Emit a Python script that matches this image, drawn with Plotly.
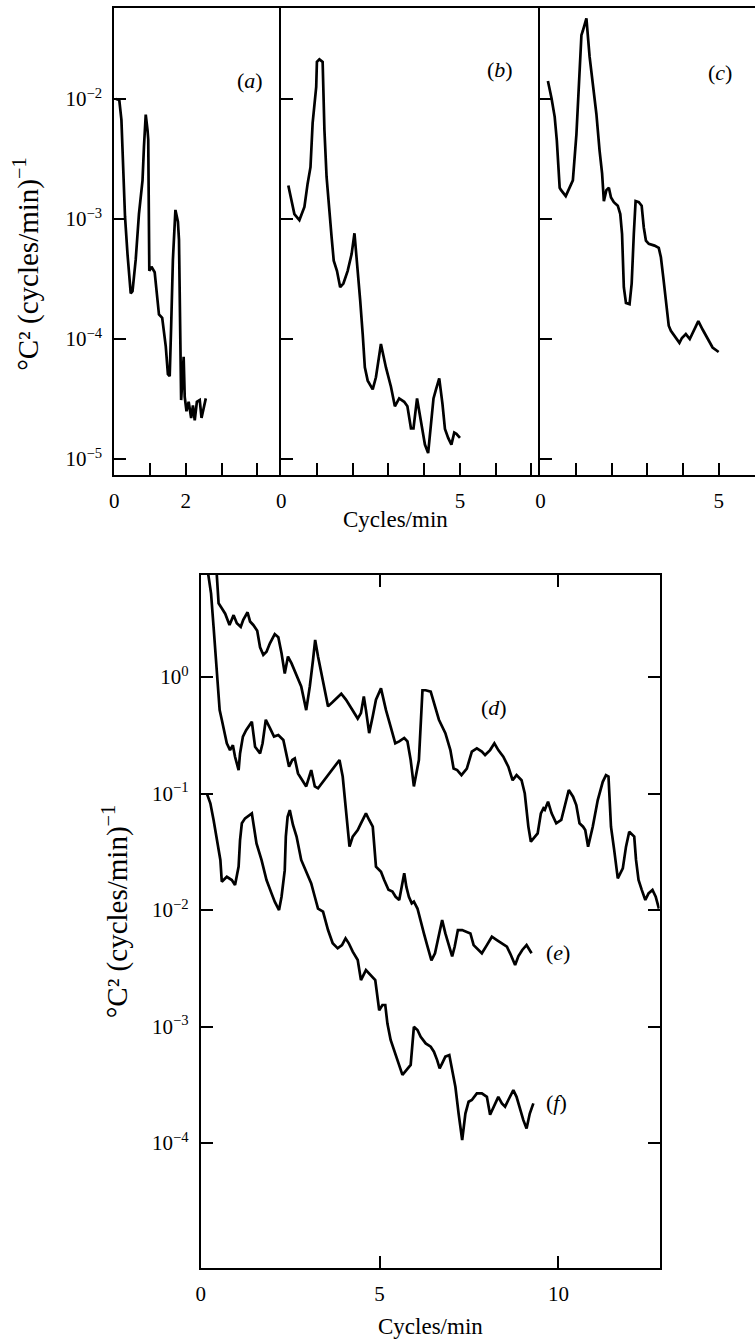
import plotly.graph_objects as go

W, H = 755, 1341

# ---------------- data ----------------
a_freq = [0.05, 0.14, 0.20, 0.26, 0.30, 0.37, 0.46, 0.51, 0.60, 0.69, 0.79, 0.83, 0.88, 0.93, 0.95,
          0.98, 1.04, 1.13, 1.20, 1.25, 1.34, 1.44, 1.50, 1.55, 1.59, 1.64, 1.71, 1.78, 1.81, 1.84,
          1.87, 1.91, 1.94, 1.97, 2.02, 2.08, 2.15, 2.20, 2.25, 2.31, 2.39, 2.44, 2.50, 2.56]
a_power = [1.0e-2, 9.8e-3, 6.7e-3, 2.4e-3, 1.05e-3, 5.1e-4, 2.4e-4, 2.5e-4, 4.6e-4, 1.1e-3, 2.1e-3,
           4.0e-3, 7.4e-3, 5.5e-3, 4.6e-3, 3.7e-4, 4.0e-4, 3.6e-4, 2.1e-4, 1.6e-4, 1.5e-4, 8.7e-5,
           5.1e-5, 4.9e-5, 1.26e-4, 4.6e-4, 1.19e-3, 9.5e-4, 6.7e-4, 1.12e-4, 3.1e-5, 4.9e-5, 7.1e-5,
           3.3e-5, 2.5e-5, 3.0e-5, 2.2e-5, 2.8e-5, 2.1e-5, 3.0e-5, 3.1e-5, 2.2e-5, 2.6e-5, 3.2e-5]

b_freq = [0.20, 0.28, 0.37, 0.51, 0.65, 0.74, 0.82, 0.88, 0.98, 1.00, 1.07, 1.16, 1.21, 1.27, 1.35,
          1.41, 1.47, 1.56, 1.65, 1.74, 1.86, 1.97, 2.05, 2.14, 2.21, 2.28, 2.34, 2.42, 2.56, 2.65,
          2.79, 2.93, 3.07, 3.18, 3.30, 3.44, 3.53, 3.63, 3.70, 3.80, 3.91, 4.02, 4.11, 4.19, 4.26,
          4.33, 4.42, 4.51, 4.58, 4.67, 4.76, 4.84, 4.90, 5.00]
b_power = [1.9e-3, 1.45e-3, 1.1e-3, 9.8e-4, 1.26e-3, 1.97e-3, 2.7e-3, 6.3e-3, 1.26e-2, 2.04e-2,
           2.14e-2, 2.04e-2, 5.5e-3, 2.24e-3, 1.26e-3, 7.1e-4, 4.5e-4, 3.7e-4, 2.7e-4, 2.9e-4, 3.7e-4,
           5.1e-4, 7.6e-4, 4.0e-4, 2.1e-4, 1.1e-4, 5.8e-5, 4.5e-5, 3.8e-5, 4.8e-5, 9.1e-5, 5.8e-5,
           4.0e-5, 2.75e-5, 3.2e-5, 3.0e-5, 2.75e-5, 1.8e-5, 1.8e-5, 3.2e-5, 2.0e-5, 1.32e-5, 1.12e-5,
           1.95e-5, 3.2e-5, 3.8e-5, 4.7e-5, 2.9e-5, 1.78e-5, 1.5e-5, 1.32e-5, 1.66e-5, 1.62e-5, 1.5e-5]

c_freq = [0.21, 0.31, 0.40, 0.46, 0.54, 0.58, 0.71, 0.82, 0.91, 1.01, 1.08, 1.15, 1.19, 1.29, 1.38,
          1.47, 1.57, 1.66, 1.73, 1.78, 1.85, 1.92, 1.98, 2.06, 2.17, 2.24, 2.29, 2.34, 2.40, 2.50,
          2.56, 2.62, 2.67, 2.76, 2.84, 2.90, 2.96, 3.04, 3.20, 3.32, 3.38, 3.45, 3.52, 3.60, 3.66,
          3.76, 3.90, 3.97, 4.08, 4.19, 4.32, 4.43, 4.55, 4.69, 4.83, 5.00]
c_power = [1.41e-2, 1.02e-2, 7.1e-3, 4.5e-3, 1.82e-3, 1.74e-3, 1.55e-3, 1.82e-3, 2.1e-3, 5.1e-3,
           1.33e-2, 3.4e-2, 3.7e-2, 4.7e-2, 2.24e-2, 1.33e-2, 7.5e-3, 3.7e-3, 2.4e-3, 1.41e-3, 1.74e-3,
           1.82e-3, 1.51e-3, 1.38e-3, 1.29e-3, 1.1e-3, 7.5e-4, 2.7e-4, 2.0e-4, 1.95e-4, 2.9e-4, 7.5e-4,
           1.41e-3, 1.38e-3, 1.29e-3, 8.5e-4, 6.6e-4, 6.2e-4, 6.0e-4, 5.75e-4, 4.8e-4, 3.2e-4, 2.1e-4,
           1.29e-4, 1.17e-4, 1.07e-4, 9.3e-5, 1.02e-4, 1.1e-4, 1.0e-4, 1.2e-4, 1.41e-4, 1.2e-4,
           1.02e-4, 8.5e-5, 7.8e-5]

d_freq = [0.435, 0.50, 0.59, 0.685, 0.805, 0.92, 1.01, 1.12, 1.19, 1.31, 1.38, 1.47, 1.58, 1.66, 1.75,
          1.84, 1.935, 2.07, 2.17, 2.26, 2.35, 2.44, 2.54, 2.68, 2.81, 2.95, 3.05, 3.14, 3.20, 3.28,
          3.42, 3.56, 3.69, 3.93, 4.06, 4.25, 4.39, 4.48, 4.56, 4.62, 4.71, 4.81, 4.90, 5.04, 5.18,
          5.31, 5.44, 5.55, 5.69, 5.78, 5.87, 5.96, 6.10, 6.20, 6.29, 6.43, 6.52, 6.66, 6.84, 6.98,
          7.07, 7.17, 7.29, 7.44, 7.58, 7.72, 7.86, 7.95, 8.09, 8.21, 8.32, 8.46, 8.60, 8.72, 8.83,
          8.97, 9.06, 9.16, 9.23, 9.34, 9.42, 9.51, 9.58, 9.62, 9.71, 9.81, 9.94, 10.08, 10.17, 10.29,
          10.41, 10.50, 10.59, 10.69, 10.75, 10.83, 10.96, 11.10, 11.24, 11.33, 11.40, 11.43, 11.47,
          11.56, 11.66, 11.80, 11.89, 11.98, 12.12, 12.17, 12.24, 12.33, 12.43, 12.52, 12.63, 12.72,
          12.81]
d_power = [8.9, 4.3, 3.9, 3.5, 2.8, 3.4, 2.9, 2.7, 3.1, 3.6, 3.0, 2.8, 2.5, 1.8, 1.55, 1.65, 1.95,
           2.34, 2.2, 1.6, 1.07, 1.5, 1.31, 1.04, 0.83, 0.52, 0.83, 1.4, 2.08, 1.5, 0.94, 0.56, 0.61,
           0.72, 0.64, 0.52, 0.44, 0.49, 0.68, 0.52, 0.33, 0.46, 0.64, 0.80, 0.52, 0.375, 0.27, 0.28,
           0.30, 0.28, 0.194, 0.115, 0.194, 0.77, 0.77, 0.75, 0.59, 0.43, 0.33, 0.236, 0.164, 0.159,
           0.144, 0.164, 0.229, 0.244, 0.229, 0.214, 0.236, 0.27, 0.236, 0.207, 0.17, 0.13, 0.144,
           0.13, 0.1, 0.052, 0.0386, 0.0427, 0.0455, 0.0676, 0.0746, 0.0724, 0.0851, 0.0676, 0.0555,
           0.0593, 0.077, 0.107, 0.094, 0.0796, 0.0555, 0.0519, 0.0486, 0.035, 0.0519, 0.0879, 0.126,
           0.144, 0.14, 0.0822, 0.0519, 0.0327, 0.0187, 0.0228, 0.035, 0.047, 0.0427, 0.0269, 0.0181,
           0.0149, 0.0122, 0.0139, 0.0149, 0.013, 0.0103]

e_freq = [0.18, 0.22, 0.29, 0.36, 0.43, 0.47, 0.53, 0.59, 0.66, 0.73, 0.82, 0.90, 0.96, 1.06, 1.10,
          1.18, 1.27, 1.43, 1.52, 1.66, 1.73, 1.82, 1.94, 2.05, 2.17, 2.31, 2.38, 2.47, 2.56, 2.63,
          2.72, 2.86, 2.95, 3.09, 3.19, 3.28, 3.42, 3.60, 3.74, 3.88, 3.97, 4.06, 4.16, 4.25, 4.39,
          4.48, 4.62, 4.71, 4.81, 4.90, 5.04, 5.13, 5.25, 5.36, 5.45, 5.55, 5.62, 5.69, 5.75, 5.82,
          5.90, 5.96, 6.06, 6.15, 6.24, 6.33, 6.45, 6.55, 6.66, 6.75, 6.84, 6.94, 7.03, 7.10, 7.19,
          7.31, 7.40, 7.54, 7.63, 7.72, 7.86, 8.00, 8.14, 8.28, 8.42, 8.56, 8.65, 8.79, 8.88, 8.99,
          9.11, 9.25]
e_power = [8.85, 7.0, 5.2, 2.7, 1.4, 0.83, 0.52, 0.43, 0.33, 0.27, 0.236, 0.26, 0.207, 0.159, 0.221,
           0.308, 0.35, 0.414, 0.252, 0.221, 0.27, 0.43, 0.363, 0.308, 0.318, 0.288, 0.229, 0.17,
           0.194, 0.2, 0.149, 0.126, 0.115, 0.159, 0.115, 0.111, 0.126, 0.149, 0.17, 0.194, 0.14,
           0.077, 0.035, 0.0427, 0.0486, 0.0555, 0.0676, 0.0593, 0.0519, 0.0236, 0.0213, 0.0181,
           0.0149, 0.0144, 0.013, 0.0122, 0.0158, 0.0207, 0.0158, 0.013, 0.0114, 0.0118, 0.0103,
           0.0079, 0.0063, 0.005, 0.0037, 0.00425, 0.0059, 0.0082, 0.0063, 0.00484, 0.004, 0.00484,
           0.00673, 0.00673, 0.00652, 0.0063, 0.005, 0.00469, 0.00425, 0.005, 0.0059, 0.00552,
           0.00518, 0.00484, 0.00425, 0.00337, 0.004, 0.00454, 0.005, 0.00425]

f_freq = [0.18, 0.27, 0.36, 0.45, 0.55, 0.59, 0.73, 0.87, 0.96, 1.06, 1.10, 1.15, 1.24, 1.43, 1.49,
          1.56, 1.70, 1.84, 1.98, 2.07, 2.19, 2.26, 2.35, 2.38, 2.43, 2.49, 2.58, 2.68, 2.81, 2.95,
          3.00, 3.09, 3.19, 3.28, 3.42, 3.56, 3.69, 3.83, 3.95, 4.05, 4.14, 4.25, 4.39, 4.48, 4.62,
          4.76, 4.88, 4.99, 5.08, 5.16, 5.22, 5.31, 5.44, 5.55, 5.64, 5.75, 5.87, 5.96, 6.06, 6.15,
          6.29, 6.43, 6.52, 6.61, 6.68, 6.75, 6.84, 6.95, 7.03, 7.12, 7.21, 7.31, 7.40, 7.49, 7.58,
          7.72, 7.86, 8.00, 8.09, 8.19, 8.32, 8.42, 8.51, 8.60, 8.74, 8.83, 8.93, 9.02, 9.11, 9.20,
          9.30]
f_power = [0.0984, 0.0824, 0.0593, 0.0399, 0.0269, 0.0175, 0.0193, 0.0181, 0.0164, 0.0236, 0.0399,
           0.0555, 0.0612, 0.0676, 0.0519, 0.0373, 0.0269, 0.0181, 0.0139, 0.0118, 0.01, 0.013, 0.022,
           0.0427, 0.0632, 0.0721, 0.0537, 0.0427, 0.0269, 0.0213, 0.0193, 0.0169, 0.013, 0.0103,
           0.0097, 0.00673, 0.00518, 0.00469, 0.005, 0.00571, 0.00518, 0.00439, 0.00372, 0.0025,
           0.00305, 0.00277, 0.0025, 0.00138, 0.00153, 0.00153, 0.00106, 0.000766, 0.000589,
           0.000452, 0.000384, 0.000423, 0.000468, 0.000995, 0.000933, 0.000817, 0.000716, 0.000671,
           0.000608, 0.000515, 0.000438, 0.000483, 0.000551, 0.000569, 0.000423, 0.000304, 0.000179,
           0.000106, 0.000179, 0.000226, 0.000234, 0.000267, 0.000267, 0.000249, 0.000175, 0.000205,
           0.000249, 0.000219, 0.000205, 0.000234, 0.000284, 0.000249, 0.000192, 0.000157, 0.000133,
           0.000179, 0.000219]

top_ytick_vals = [1e-2, 1e-3, 1e-4, 1e-5]
top_ytick_text = ["10<sup>−2</sup>", "10<sup>−3</sup>", "10<sup>−4</sup>", "10<sup>−5</sup>"]
bot_ytick_vals = [1e0, 1e-1, 1e-2, 1e-3, 1e-4]
bot_ytick_text = ["10<sup>0</sup>", "10<sup>−1</sup>", "10<sup>−2</sup>", "10<sup>−3</sup>", "10<sup>−4</sup>"]
a_xtick_vals = [0, 2]
a_xtick_text = ["0", "2"]
a_xminor = [1, 3, 4]
b_xtick_vals = [0, 5]
b_xtick_text = ["0", "5"]
b_xminor = [1, 2, 3, 4, 6, 7]
c_xtick_vals = [0, 5]
c_xtick_text = ["0", "5"]
c_xminor = [1, 2, 3, 4, 6]
bot_xtick_vals = [0, 5, 10]
bot_xtick_text = ["0", "5", "10"]

FONT = "Liberation Serif"
INK = "black"


def fx(p):
    return p / W


def fy(p):
    return 1 - p / H


fig = go.Figure()
line = dict(color=INK, width=2.7)
for xs, ys, xa, ya in [(a_freq, a_power, "x", "y"), (b_freq, b_power, "x2", "y2"),
                       (c_freq, c_power, "x3", "y3"), (d_freq, d_power, "x4", "y4"),
                       (e_freq, e_power, "x4", "y4"), (f_freq, f_power, "x4", "y4")]:
    fig.add_trace(go.Scatter(x=xs, y=ys, xaxis=xa, yaxis=ya, mode="lines", line=line,
                             showlegend=False, hoverinfo="skip"))

common = dict(showgrid=False, zeroline=False, showline=True, linecolor=INK, linewidth=1.8,
              ticks="inside", tickcolor=INK, tickwidth=1.8, ticklen=12,
              tickfont=dict(family=FONT, size=21, color=INK))


def minor(vals):
    return dict(tickvals=vals, ticks="inside", ticklen=12, tickwidth=1.8, tickcolor=INK,
                showgrid=False)


top_dom_y = [fy(475), fy(8)]
top_range = [-5.133, -1.242]

fig.update_layout(
    width=W, height=H, margin=dict(l=0, r=0, t=0, b=0),
    paper_bgcolor="white", plot_bgcolor="white", showlegend=False,
    xaxis=dict(common, domain=[fx(110), fx(278)], range=[0, 4.667], anchor="y",
               tickvals=a_xtick_vals, ticktext=a_xtick_text, minor=minor(a_xminor),
               mirror=True, ticklabelstandoff=6),
    yaxis=dict(common, domain=top_dom_y, type="log", range=top_range, anchor="x",
               tickvals=top_ytick_vals, ticktext=top_ytick_text, mirror=False, ticklabelstandoff=6),
    xaxis2=dict(common, domain=[fx(278), fx(539)], range=[0, 7.25], anchor="y2",
                tickvals=b_xtick_vals, ticktext=b_xtick_text, minor=minor(b_xminor),
                mirror=True, ticklabelstandoff=6),
    yaxis2=dict(common, domain=top_dom_y, type="log", range=top_range, anchor="x2",
                tickvals=top_ytick_vals, showticklabels=False, mirror=False),
    xaxis3=dict(common, domain=[fx(539), 1.0], range=[0, 6.02], anchor="y3",
                tickvals=c_xtick_vals, ticktext=c_xtick_text, minor=minor(c_xminor),
                mirror=True, ticklabelstandoff=6),
    yaxis3=dict(common, domain=top_dom_y, type="log", range=top_range, anchor="x3",
                tickvals=top_ytick_vals, showticklabels=False, mirror=False),
    xaxis4=dict(common, domain=[fx(197), fx(659)], range=[0, 12.83], anchor="y4",
                tickvals=bot_xtick_vals, ticktext=bot_xtick_text, mirror="ticks", ticklabelstandoff=6),
    yaxis4=dict(common, domain=[fy(1268), fy(575)], type="log", range=[-5.073, 0.876], anchor="x4",
                tickvals=bot_ytick_vals, ticktext=bot_ytick_text, mirror="ticks", ticklabelstandoff=6),
)

ann_font = dict(family=FONT, size=22, color=INK)
title_font = dict(family=FONT, size=23, color=INK)
ytitle_font = dict(family=FONT, size=29, color=INK)
ytitle = "°C² (cycles/min)<sup>−1</sup>"
annotations = [
    dict(text="(<i>a</i>)", x=fx(247), y=fy(80), font=ann_font),
    dict(text="(<i>b</i>)", x=fx(498), y=fy(70), font=ann_font),
    dict(text="(<i>c</i>)", x=fx(720), y=fy(72), font=ann_font),
    dict(text="(<i>d</i>)", x=fx(492), y=fy(707), font=ann_font),
    dict(text="(<i>e</i>)", x=fx(557), y=fy(952), font=ann_font),
    dict(text="(<i>f</i>)", x=fx(555), y=fy(1102), font=ann_font),
    dict(text="Cycles/min", x=fx(393), y=fy(519), font=title_font),
    dict(text="Cycles/min", x=fx(428), y=fy(1326), font=title_font),
    dict(text=ytitle, x=fx(22), y=fy(264), textangle=-90, font=ytitle_font),
    dict(text=ytitle, x=fx(111), y=fy(912), textangle=-90, font=ytitle_font),
]
for a in annotations:
    a.update(xref="paper", yref="paper", showarrow=False, xanchor="center", yanchor="middle")
fig.update_layout(annotations=annotations)

fig.write_html("out.html")
